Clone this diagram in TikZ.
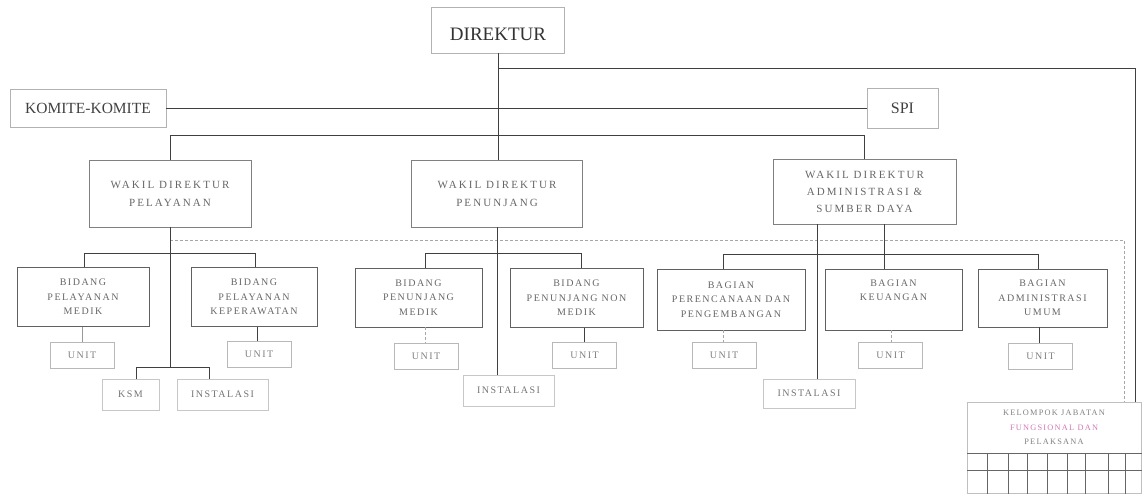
\documentclass[tikz,border=0pt]{standalone}
\usepackage{fontspec}
\setmainfont{Liberation Serif}
\newfontfamily\spacedfont[LetterSpace=15]{Liberation Serif}
\newfontfamily\widerfont[LetterSpace=19]{Liberation Serif}
\definecolor{pinkish}{RGB}{205,120,185}
\begin{document}
\begin{tikzpicture}[x=1pt,y=-1pt,
  topbox/.style={draw=black!30, line width=0.6pt, inner sep=0pt, text=black!80},
  wakbox/.style={draw=black!50, line width=0.8pt, inner sep=0pt, align=center, text=black!60,
    font={\widerfont\fontsize{11}{18}\selectfont}},
  bidbox/.style={draw=black!62, line width=0.9pt, inner sep=0pt, align=center, text=black!60,
    minimum height=59, font={\spacedfont\fontsize{10}{14.5}\selectfont}},
  unitbox/.style={draw=black!28, line width=0.7pt, inner sep=0pt, text=black!50,
    minimum width=64, minimum height=26, font={\spacedfont\fontsize{10}{12}\selectfont}},
  insbox/.style={draw=black!22, line width=0.7pt, inner sep=0pt, text=black!55,
    minimum height=31, font={\spacedfont\fontsize{10}{12}\selectfont}},
  conn/.style={draw=black!75, line width=0.8pt},
  lightconn/.style={draw=black!40, line width=0.7pt},
  dashconn/.style={draw=black!35, line width=0.6pt, dash pattern=on 3pt off 2pt},
  gridline/.style={draw=black!60, line width=0.7pt}
]
\useasboundingbox (0,0) rectangle (1142,493);

% top level
\node[topbox, minimum width=133, minimum height=46, font={\fontsize{19}{22}\selectfont}, text=black!80] (dir) at (498,30) {\raisebox{-4pt}[\height][0pt]{DIREKTUR}};
\node[topbox, minimum width=156, minimum height=38, font={\fontsize{15.5}{18}\selectfont}, text=black!75] (kom) at (88,108) {KOMITE-KOMITE};
\node[topbox, minimum width=71, minimum height=40, font={\fontsize{16}{18}\selectfont}, text=black!75] (spi) at (902.5,108) {SPI};

% wakil direktur
\node[wakbox, minimum width=162, minimum height=67] (wpel) at (170,193.5) {WAKIL DIREKTUR\\PELAYANAN};
\node[wakbox, minimum width=171, minimum height=67] (wpen) at (497,193.5) {WAKIL DIREKTUR\\PENUNJANG};
\node[wakbox, minimum width=183, minimum height=65, font={\widerfont\fontsize{11}{17}\selectfont}] (wadm) at (864.5,191.5) {WAKIL DIREKTUR\\ADMINISTRASI \&\\SUMBER DAYA};

% bidang / bagian
\node[bidbox, minimum width=132] (bpm) at (83,297) {BIDANG\\PELAYANAN\\MEDIK};
\node[bidbox, minimum width=126] (bpk) at (254,297) {BIDANG\\PELAYANAN\\KEPERAWATAN};
\node[bidbox, minimum width=127] (bpnm) at (418.5,297.5) {BIDANG\\PENUNJANG\\MEDIK};
\node[bidbox, minimum width=133] (bpnn) at (576.5,298) {BIDANG\\PENUNJANG NON\\MEDIK};
\node[bidbox, minimum width=148, minimum height=61] (bpp) at (731,299.5) {BAGIAN\\PERENCANAAN DAN\\PENGEMBANGAN};
\node[bidbox, minimum width=137, minimum height=61] (bk) at (893.5,299.5) {BAGIAN\\KEUANGAN\\\strut};
\node[bidbox, minimum width=129, minimum height=58] (bau) at (1042.5,298) {BAGIAN\\ADMINISTRASI\\UMUM};

% units
\node[unitbox] (u1) at (82,355.5) {UNIT};
\node[unitbox] (u2) at (259,354.5) {UNIT};
\node[unitbox] (u3) at (426,356.5) {UNIT};
\node[unitbox] (u4) at (584.5,355.5) {UNIT};
\node[unitbox] (u5) at (724,355) {UNIT};
\node[unitbox] (u6) at (890.5,355) {UNIT};
\node[unitbox] (u7) at (1040.5,356.5) {UNIT};

% ksm / instalasi
\node[insbox, minimum width=57] (ksm) at (130.5,394.5) {KSM};
\node[insbox, minimum width=91] (ins1) at (222.5,394.5) {INSTALASI};
\node[insbox, minimum width=91] (ins2) at (508.5,390.5) {INSTALASI};
\node[insbox, minimum width=92, minimum height=29] (ins3) at (809,393.5) {INSTALASI};

% kelompok jabatan
\node[draw=black!25, line width=0.7pt, minimum width=174, minimum height=91, inner sep=0pt, anchor=north west] (kel) at (967,402) {};
\node[align=center, text=black!50, inner sep=0pt, font={\spacedfont\fontsize{8.3}{14.5}\selectfont}] (keltxt) at (1054,427.5) {KELOMPOK JABATAN\\{\color{pinkish}FUNGSIONAL DAN}\\PELAKSANA};

% coordinates for lines
\coordinate (rtop) at (1135,68);
\coordinate (dleft) at (170,240);
\coordinate (dright) at (1124,240);
\coordinate (busL) at (0,135);

% top connectors
\draw[conn] (dir.south) -- (wpen.north -| dir.south);
\draw[conn] (dir.south |- rtop) -- (rtop) -- (rtop |- kel.north);
\draw[conn] (kom.east) -- (spi.west);
\draw[conn] (wpel.north) -- (wpel.north |- busL) -- (wadm.north |- busL) -- (wadm.north);

% dashed coordination line
\draw[dashconn] (dleft) -- (dright) -- (dright |- kel.north);

% pelayanan branch
\coordinate (b2) at (0,367);
\draw[conn] (wpel.south) -- (wpel.south |- b2);
\draw[conn] (bpm.north -| 84,0) -- (84,253) -- (255,253) -- (bpk.north -| 255,0);
\draw[conn] (ksm.north -| 136,0) -- (136,367) -- (209,367) -- (ins1.north -| 209,0);
\draw[lightconn] (bpm.south -| u1.north) -- (u1.north);
\draw[conn] (bpk.south -| 257,0) -- (u2.north -| 257,0);

% penunjang branch
\draw[conn] (wpen.south) -- (wpen.south |- ins2.north);
\draw[conn] (bpnm.north -| 425,0) -- (425,253) -- (581,253) -- (bpnn.north -| 581,0);
\draw[dashconn] (bpnm.south -| 425,0) -- (u3.north -| 425,0);
\draw[conn] (bpnn.south -| 584,0) -- (u4.north -| 584,0);

% administrasi branch
\draw[conn] (wadm.south -| 817,0) -- (ins3.north -| 817,0);
\draw[conn] (wadm.south -| 884,0) -- (bk.north -| 884,0);
\draw[conn] (bpp.north -| 723,0) -- (723,254) -- (1038,254) -- (bau.north -| 1038,0);
\draw[dashconn] (bpp.south -| 723,0) -- (u5.north -| 723,0);
\draw[dashconn] (bk.south -| 891,0) -- (u6.north -| 891,0);
\draw[conn] (bau.south -| 1039,0) -- (u7.north -| 1039,0);

% grid under kelompok
\draw[gridline] (kel.west |- 0,453) -- (kel.east |- 0,453);
\draw[gridline] (kel.west |- 0,470) -- (kel.east |- 0,470);
\foreach \gx in {987,1008,1027,1047,1067,1085,1108,1125}{
  \draw[gridline] (\gx,453) -- (kel.south -| \gx,0);
}
\end{tikzpicture}
\end{document}
